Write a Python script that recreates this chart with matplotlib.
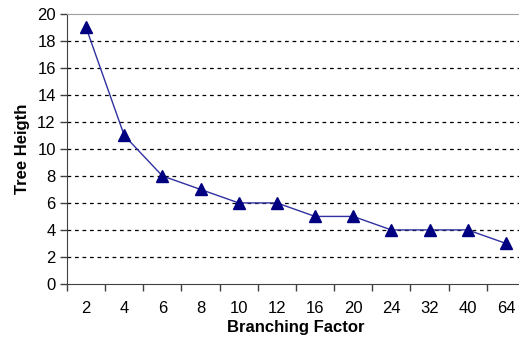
import matplotlib.pyplot as plt
import numpy as np

plt.rcParams['font.family'] = ['Liberation Sans', 'DejaVu Sans']

# --- Data ---
branching = ['2', '4', '6', '8', '10', '12', '16', '20', '24', '32', '40', '64']
height = [19, 11, 8, 7, 6, 6, 5, 5, 4, 4, 4, 3]

fig = plt.figure(figsize=(5.19, 3.38), dpi=100)
ax = fig.add_axes([0.129, 0.16, 0.8825, 0.7988])

x = np.arange(len(branching))
ax.plot(x, height, color='#3030a0', linewidth=1, marker='^', markersize=8.5,
        markerfacecolor='#000080', markeredgecolor='#000080', clip_on=False, zorder=3)

ax.set_xlim(-0.5, len(branching) - 0.5)
ax.set_ylim(0, 20)
ax.set_yticks(range(0, 21, 2))
ax.set_xticks(x)
ax.set_xticklabels(branching)
ax.set_xticks(np.arange(-0.5, len(branching), 1), minor=True)
ax.tick_params(axis='x', which='major', length=0, pad=12, labelsize=12)
ax.tick_params(axis='x', which='minor', length=5, width=1, color='#404040')
ax.tick_params(axis='y', length=5, width=1, color='#404040', labelsize=12, pad=3)

# dashed gridlines
for y in range(2, 20, 2):
    ax.axhline(y, color='black', linestyle=(0, (3, 3)), linewidth=0.9, zorder=1)

ax.spines['top'].set_color('#a0a0a0')
ax.spines['right'].set_visible(False)
ax.spines['left'].set_color('#404040')
ax.spines['bottom'].set_color('#404040')

ax.set_xlabel('Branching Factor', fontweight='bold', fontsize=12, labelpad=3)
ax.set_ylabel('Tree Heigth', fontweight='bold', fontsize=12, labelpad=5)

fig.savefig('out.png', dpi=100)
